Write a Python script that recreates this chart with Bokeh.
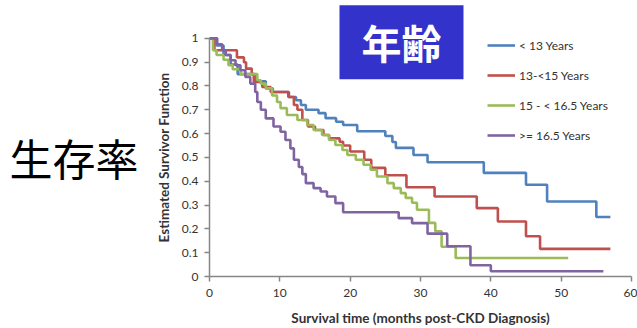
import math
from bokeh.plotting import figure
from bokeh.models import (Range1d, FixedTicker, Label, Legend, LegendItem, LinearAxis)
from bokeh.embed import file_html
from bokeh.resources import INLINE

# ---- data ----
blue_t = [0, 1, 2, 3, 4, 6.5, 8, 9, 11.3, 12.3, 13, 13.7, 15.5, 16.5, 18, 19, 21, 25, 26, 26.5, 29, 31, 39, 45, 48, 55, 57]
blue_s = [1.0, 0.97, 0.93, 0.89, 0.85, 0.82, 0.79, 0.775, 0.754, 0.74, 0.72, 0.70, 0.686, 0.665, 0.65, 0.636, 0.61, 0.59, 0.565, 0.54, 0.51, 0.48, 0.435, 0.385, 0.315, 0.25, 0.25]

red_t = [0, 0.7, 3.9, 4.9, 5.2, 6, 6.3, 7.5, 8.7, 11.2, 12, 12.5, 13.2, 14, 15, 16.2, 17, 18.5, 19, 20, 22, 23, 25, 28, 32, 38, 41, 45, 47, 57]
red_s = [1.0, 0.95, 0.92, 0.90, 0.873, 0.85, 0.817, 0.796, 0.775, 0.754, 0.72, 0.70, 0.657, 0.63, 0.615, 0.594, 0.58, 0.566, 0.55, 0.525, 0.49, 0.456, 0.425, 0.375, 0.336, 0.287, 0.231, 0.169, 0.116, 0.116]

green_t = [0, 0.5, 1, 2, 2.7, 3.3, 4.4, 6.8, 7.3, 8, 8.9, 9.6, 10.1, 11, 12.5, 13.9, 14.8, 16, 17, 17.9, 18.9, 19.6, 20.8, 21.9, 22.9, 23.8, 25.3, 26.2, 27.2, 27.9, 28.8, 29.5, 31.2, 32.1, 33, 35, 51]
green_s = [1.0, 0.95, 0.93, 0.91, 0.887, 0.87, 0.85, 0.824, 0.81, 0.79, 0.76, 0.733, 0.707, 0.678, 0.657, 0.636, 0.615, 0.594, 0.573, 0.552, 0.531, 0.51, 0.49, 0.469, 0.448, 0.42, 0.392, 0.371, 0.35, 0.33, 0.31, 0.28, 0.225, 0.19, 0.125, 0.078, 0.078]

purple_t = [0, 1.1, 1.8, 2.3, 3, 3.7, 4.4, 5.1, 5.8, 6.5, 6.8, 7.3, 8, 9.1, 10.1, 10.8, 11.5, 12, 12.7, 13.2, 13.7, 14.8, 15.8, 16.7, 17.9, 19, 26.9, 28.8, 31, 33.8, 37.1, 40, 56]
purple_s = [1.0, 0.975, 0.95, 0.93, 0.908, 0.887, 0.866, 0.838, 0.81, 0.775, 0.733, 0.70, 0.664, 0.63, 0.608, 0.573, 0.538, 0.49, 0.46, 0.43, 0.392, 0.371, 0.357, 0.336, 0.308, 0.27, 0.245, 0.224, 0.18, 0.127, 0.047, 0.022, 0.022]

series_names = ["< 13 Years", "13-<15 Years", "15 - < 16.5 Years", ">= 16.5 Years"]
series_colors = ["#4F81BD", "#C0504D", "#9BBB59", "#8064A2"]

x_ticks = [0, 10, 20, 30, 40, 50, 60]
y_ticks = [0, 0.1, 0.2, 0.3, 0.4, 0.5, 0.6, 0.7, 0.8, 0.9, 1]
y_tick_labels = ["0", "0.1", "0.2", "0.3", "0.4", "0.5", "0.6", "0.7", "0.8", "0.9", "1"]

x_title = "Survival time (months post-CKD Diagnosis)"
y_title = "Estimated Survivor Function"
side_text = "生存率"
box_text = "年齢"

W, H = 637, 328
L, R, T, B = 209, 6, 0, 51
Y0_PX = 277          # pixel row of survival 0
Y1_PX = 38           # pixel row of survival 1
y_top = (Y0_PX - T) / (Y0_PX - Y1_PX)
y_mid = 0.5          # titles are centred on the middle of the 0..1 axis

p = figure(width=W, height=H, output_backend="svg", toolbar_location=None,
           x_range=Range1d(0, 60), y_range=Range1d(0, y_top),
           min_border_left=L, min_border_right=R, min_border_top=T, min_border_bottom=B)
p.outline_line_color = None
p.grid.visible = False
p.background_fill_color = "white"
p.border_fill_color = "white"

txt_font = "Lato"
axis_col = "#868686"
lab_col = "#333333"
for ax in (p.xaxis[0], p.yaxis[0]):
    ax.axis_line_color = axis_col
    ax.axis_line_width = 1.5
    ax.major_tick_line_color = axis_col
    ax.major_tick_line_width = 1.5
    ax.major_tick_in = 0
    ax.major_tick_out = 5
    ax.minor_tick_line_color = None
    ax.major_label_text_font = txt_font
    ax.major_label_text_font_size = "12px"
    ax.major_label_text_color = lab_col

p.xaxis.ticker = FixedTicker(ticks=x_ticks)
p.yaxis.ticker = FixedTicker(ticks=y_ticks)
p.yaxis.major_label_overrides = {t: s for t, s in zip(y_ticks, y_tick_labels)}
p.xaxis.bounds = (0, 60)
p.yaxis.bounds = (0, 1)
p.xaxis.major_label_standoff = 7
p.yaxis.major_label_standoff = 6
p.xaxis.axis_label = x_title
p.xaxis.axis_label_text_font = txt_font
p.xaxis.axis_label_text_font_style = "bold"
p.xaxis.axis_label_text_font_size = "13.5px"
p.xaxis.axis_label_text_color = lab_col
p.xaxis.axis_label_standoff = 10


def title_axis(text, font, size, style, color, orientation, standoff):
    ax = LinearAxis(ticker=FixedTicker(ticks=[y_mid]),
                    major_label_overrides={y_mid: text},
                    major_label_orientation=orientation,
                    major_label_text_font=font,
                    major_label_text_font_size=size,
                    major_label_text_font_style=style,
                    major_label_text_color=color,
                    major_label_standoff=standoff,
                    major_tick_in=0, major_tick_out=0,
                    axis_line_color=None, major_tick_line_color=None,
                    minor_tick_line_color=None)
    p.add_layout(ax, "left")
    return ax

# y title (rotated) and the big Chinese label, centred on 0.5
title_axis(y_title, txt_font, "13.5px", "bold", lab_col, "vertical", 6)
title_axis(side_text, "Noto Sans CJK JP", "43px", "normal", "black", "horizontal", 15)

data = [(blue_t, blue_s), (red_t, red_s), (green_t, green_s), (purple_t, purple_s)]
items = []
for (t, s), name, col in zip(data, series_names, series_colors):
    r = p.step(t, s, mode="after", line_color=col, line_width=2.6)
    items.append(LegendItem(label=name, renderers=[r]))

legend = Legend(items=items, location=(278, 131), orientation="vertical",
                glyph_width=28, glyph_height=20, label_height=20, spacing=10,
                label_standoff=4, padding=0, margin=0,
                border_line_alpha=0, background_fill_alpha=0,
                label_text_font=txt_font, label_text_font_size="12px",
                label_text_color=lab_col)
p.add_layout(legend)

# scales for annotation placement
sx = (W - L - R) / 60.0
sy = (Y0_PX - Y1_PX) / 1.0

def dx(px):
    return (px - L) / sx

def dy(py):
    return (Y0_PX - py) / sy

p.add_layout(Label(x=dx(401), y=dy(42), text=box_text, text_align="center",
                   text_baseline="middle", text_font="Noto Sans CJK JP",
                   text_font_style="bold", text_font_size="40px", text_color="white",
                   background_fill_color="#3333CC",
                   padding=dict(left=22, right=22, top=8, bottom=8)))

open("out.html", "w").write(file_html(p, INLINE))
